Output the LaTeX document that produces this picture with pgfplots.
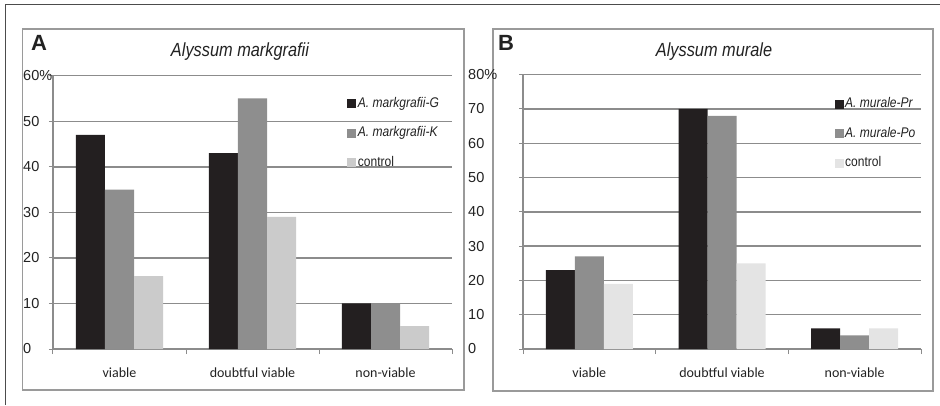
\documentclass[border=0pt]{standalone}
\usepackage{pgfplots}
\pgfplotsset{compat=1.18}
\usepackage{fontspec}
\setmainfont{Liberation Sans}
\newfontfamily\narrow[FakeStretch=0.86]{Liberation Sans}
\newfontfamily\calib{Carlito}
\definecolor{cblack}{HTML}{231F20}
\definecolor{cgray}{HTML}{8E8E8E}
\definecolor{clightA}{HTML}{CBCBCB}
\definecolor{clightB}{HTML}{E4E4E4}
\definecolor{gridc}{HTML}{8C8C8C}
\definecolor{boxc}{HTML}{9A9A9A}
\definecolor{txt}{HTML}{222222}
\pgfplotsset{
  panel/.style={
    scale only axis, ybar=0pt, bar width=29pt,
    xmin=-0.5, xmax=2.5, ymin=0,
    xtick={0,1,2}, xticklabels={viable,doubtful viable,non-viable},
    minor xtick={-0.5,0.5,1.5,2.5},
    axis x line*=bottom, axis y line*=left,
    axis line style={gridc, line width=1.5pt, -},
    ymajorgrids, grid style={gridc, line width=1.5pt},
    tick align=outside, major tick length=4pt, minor tick length=5pt,
    tick style={gridc, line width=1pt},
    major x tick style={draw=none},
    tick label style={font=\fontsize{14.5}{16}\selectfont, text=txt},
    xticklabel style={font=\calib\fontsize{14}{16}\selectfont, anchor=north, inner sep=0pt, yshift=-15pt},
    yticklabel style={anchor=west, inner sep=0pt, xshift=-26pt},
    legend style={draw=none, fill=none, anchor=north west, row sep=13.5pt,
      font=\narrow\fontsize{14}{16}\selectfont, text=txt,
      nodes={inner sep=1.5pt, text height=10pt, text depth=3pt}},
    legend cell align=left,
    legend image code/.code={\fill[##1] (0pt,-4.5pt) rectangle (9pt,4.5pt);},
  }
}
\begin{document}
\begin{tikzpicture}
\useasboundingbox (0pt,0pt) rectangle (940pt,405pt);
\draw[black!70, line width=1pt] (5pt,0pt) -- (5pt,400pt) -- (940pt,400pt);
\draw[boxc, line width=1.5pt] (22.7pt,15pt) rectangle (464pt,376pt);
\draw[boxc, line width=1.5pt] (493pt,14pt) rectangle (933pt,376pt);
\node[anchor=west, inner sep=0pt, font=\bfseries\fontsize{22}{24}\selectfont, text=txt] at (31pt,362pt) {A};
\node[anchor=west, inner sep=0pt, font=\bfseries\fontsize{22}{24}\selectfont, text=txt] at (498pt,362pt) {B};
\node[font=\narrow\itshape\fontsize{19}{22}\selectfont, text=txt] at (240pt,353pt) {Alyssum markgrafii};
\node[font=\narrow\itshape\fontsize{19}{22}\selectfont, text=txt] at (714pt,353pt) {Alyssum murale};

\begin{axis}[panel, at={(53pt,56pt)}, anchor=south west, width=399pt, height=273.3pt,
  ymax=60, ytick={0,10,...,60}, yticklabels={0,10,20,30,40,50,60\rlap{\%}},
  legend style={at={(0.73,0.935)}}]
\addplot[fill=cblack, draw=none] coordinates {(0,47) (1,43) (2,10)};
\addplot[fill=cgray, draw=none] coordinates {(0,35) (1,55) (2,10)};
\addplot[fill=clightA, draw=none] coordinates {(0,16) (1,29) (2,5)};
\legend{\itshape A. markgrafii-G, \itshape A. markgrafii-K, control}
\end{axis}

\begin{axis}[panel, at={(523pt,56pt)}, anchor=south west, width=398pt, height=274.3pt,
  ymax=80, ytick={0,10,...,80}, yticklabels={0,10,20,30,40,50,60,70,80\rlap{\%}},
  yticklabel style={xshift=-25pt},
  legend style={at={(0.775,0.93)}}]
\addplot[fill=cblack, draw=none] coordinates {(0,23) (1,70) (2,6)};
\addplot[fill=cgray, draw=none] coordinates {(0,27) (1,68) (2,4)};
\addplot[fill=clightB, draw=none] coordinates {(0,19) (1,25) (2,6)};
\legend{\itshape A. murale-Pr, \itshape A. murale-Po, control}
\end{axis}
\end{tikzpicture}
\end{document}
